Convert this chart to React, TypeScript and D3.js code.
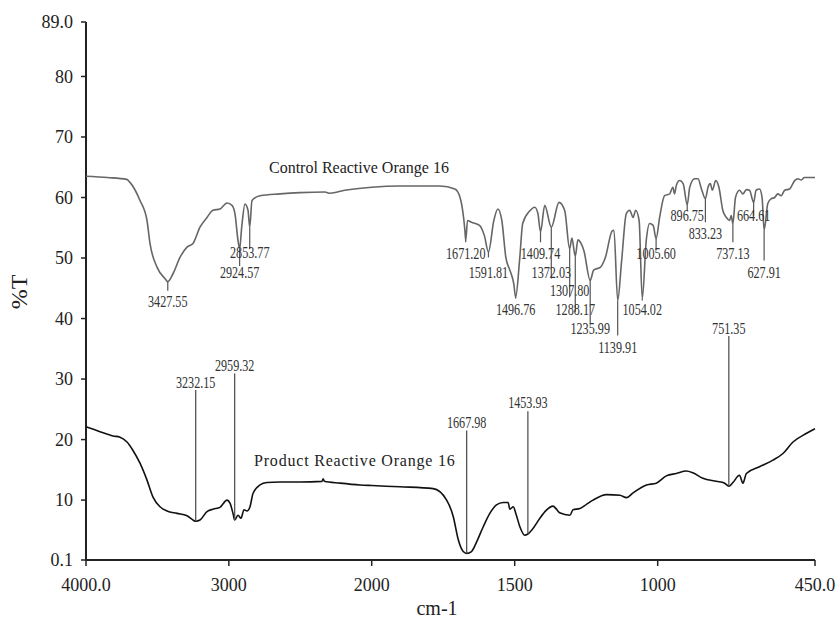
import React, { useEffect, useRef } from "react";
import * as d3 from "d3";

// control spectrum (wavenumber cm-1, %T)
const controlWn = [
  4000, 3850, 3715, 3692, 3622, 3573, 3552, 3503, 3447, 3427.55, 3391, 3342, 3293, 3251, 3202, 3153, 3111, 3062,
  3013, 2978, 2957, 2936, 2924.57, 2910, 2887, 2866, 2853.77, 2838, 2782, 2642, 2502, 2327, 2292, 2188, 2000,
  1901, 1761, 1709, 1691, 1674, 1671.2, 1665, 1651, 1623, 1606, 1591.81, 1573, 1559, 1545, 1531, 1517, 1503,
  1496.76, 1483, 1472, 1447, 1430, 1419, 1409.74, 1395, 1372.03, 1345, 1325, 1307.8, 1300, 1288.17, 1279, 1268,
  1258, 1235.99, 1224, 1200, 1183, 1159, 1153, 1139.91, 1126, 1110, 1098, 1086, 1077, 1065, 1054.02, 1040, 1028,
  1016, 1005.6, 993, 976, 958, 947, 941, 935, 923, 911, 896.75, 888, 871, 859, 847, 833.23, 824, 816, 809, 797,
  786, 772, 760, 749, 743, 737.13, 728, 714, 702, 690, 679, 664.61, 656, 644, 635, 627.91, 615, 603, 591, 580,
  568, 556, 539, 521, 510, 498, 487, 450,
];
const controlT = [
  63.5, 63.3, 63.0, 62.5, 59.5, 56.2, 52.4, 48.5, 46.6, 46.1, 47.4, 50.1, 51.8, 52.4, 55.1, 56.7, 57.9, 58.1,
  59.1, 58.7, 57.3, 52.9, 51.5, 55.1, 58.9, 57.9, 55.1, 59.5, 60.3, 60.6, 60.8, 60.9, 60.7, 61.2, 61.7,
  61.9, 61.9, 61.4, 60.0, 54.5, 52.9, 56.2, 55.9, 55.4, 53.7, 51.0, 56.2, 58.1, 56.2, 50.1, 48.0, 45.7,
  43.5, 49.6, 55.7, 57.8, 58.4, 57.4, 54.3, 58.7, 55.1, 59.2, 57.8, 51.5, 53.3, 50.3, 53.0, 52.4,
  51.2, 46.3, 48.0, 48.5, 50.1, 54.5, 54.6, 43.0, 49.6, 57.3, 57.9, 56.7, 57.9, 56.2, 43.3, 52.9, 55.7,
  55.4, 53.2, 56.8, 60.3, 60.6, 61.7, 60.6, 62.0, 62.8, 62.3, 58.8, 61.7, 63.1, 63.1, 61.4, 59.8, 61.7, 62.3, 61.2, 62.8,
  61.7, 57.8, 56.7, 56.2, 57.0, 55.7, 60.0, 61.2, 60.6, 61.3, 61.2, 59.2, 61.2, 61.4, 60.0, 54.6, 59.0, 59.8, 60.0, 60.6,
  60.3, 61.2, 61.4, 62.8, 63.1, 62.9, 63.3, 63.3,
];

// product spectrum
const productWn = [
  4000, 3902, 3811, 3762, 3713, 3671, 3622, 3573, 3531, 3482, 3433, 3363, 3293, 3251, 3232.15, 3202, 3153, 3111,
  3062, 3013, 2992, 2971, 2959.32, 2936, 2915, 2894, 2873, 2852, 2831, 2782, 2733, 2642, 2502, 2348, 2340, 2332,
  2222, 2082, 2000, 1901, 1785, 1738, 1715, 1697, 1680, 1667.98, 1651, 1633, 1610, 1587, 1564, 1540, 1523, 1517,
  1505, 1496, 1482, 1465, 1453.93, 1436, 1412, 1390, 1366, 1354, 1343, 1307, 1296, 1272, 1249, 1226, 1179, 1132,
  1109, 1086, 1039, 1005, 970, 935, 900, 877, 842, 795, 766, 751.35, 737, 714, 702, 690, 644, 597, 562, 527,
  481, 450,
];
const productT = [
  22.1, 21.3, 20.6, 20.4, 19.6, 18.2, 16.1, 13.3, 10.5, 8.9, 8.2, 7.8, 7.4, 6.7, 6.5, 6.7, 8.1, 8.5,
  8.8, 10.0, 9.5, 7.8, 6.7, 7.5, 7.0, 8.4, 8.2, 8.9, 11.1, 12.5, 12.9, 13.0, 13.0, 13.1, 13.5, 13.1,
  12.8, 12.5, 12.4, 12.2, 11.9, 10.0, 7.3, 3.4, 1.5, 1.2, 1.5, 3.1, 5.6, 7.8, 9.2, 9.6, 9.6, 8.5,
  8.9, 7.8, 5.6, 4.2, 4.4, 5.3, 7.0, 8.3, 9.0, 8.5, 7.9, 7.5, 8.4, 8.6, 9.3, 10.0, 10.9, 10.8,
  10.4, 11.2, 12.5, 12.8, 14.0, 14.4, 14.8, 14.5, 13.6, 13.1, 12.8, 12.3, 12.9, 14.1, 12.8, 14.4, 15.5, 16.6, 17.7, 19.6,
  21.0, 21.8,
];

// peak annotations: wavenumber, %T of label centre, %T where the marker line ends
const controlPeakWn = [
  3427.55, 2924.57, 2853.77, 1671.2, 1591.81, 1496.76, 1409.74, 1372.03, 1307.8, 1288.17, 1235.99, 1139.91,
  1054.02, 1005.6, 896.75, 833.23, 737.13, 664.61, 627.91,
];
const controlPeakLabelT = [42.9, 47.7, 50.9, 50.8, 47.7, 41.5, 50.8, 47.7, 44.7, 41.5, 38.4, 35.3, 41.5, 50.8, 57.0, 54.0, 50.8, 57.0, 47.7];
const controlPeakLineT = [44.6, 48.7, 51.5, 52.6, 50.1, 43.3, 52.6, 46.6, 43.5, 41.1, 39.2, 37.2, 43.0, 51.3, 57.8, 55.9, 52.6, 57.0, 49.6];

const productPeakWn = [3232.15, 2959.32, 1667.98, 1453.93, 751.35];
const productPeakLabelT = [29.5, 32.3, 22.9, 26.1, 38.3];
const productPeakLineT = [28.2, 30.9, 21.5, 24.7, 37.1];

const yTicks = [0.1, 10, 20, 30, 40, 50, 60, 70, 80, 89];
const xTicks = [4000, 3000, 2000, 1500, 1000, 450];

const fmtX = (d) => (d === 4000 || d === 450 ? d.toFixed(1) : String(d));
const fmtY = (d) => (d === 89 ? "89.0" : String(d));

const App = () => {
  const svgRef = useRef(null);

  useEffect(() => {
    const svg = d3.select(svgRef.current);
    svg.selectAll("*").remove();

    const font = "'Liberation Serif', 'Times New Roman', serif";
    // FTIR axis: scale doubles below 2000 cm-1
    const x = d3.scaleLinear().domain([4000, 2000, 450]).range([86, 371.7, 815]);
    const y = d3.scaleLinear().domain([0.1, 89]).range([560, 22]);

    const line = d3
      .line()
      .x((d) => x(d[0]))
      .y((d) => y(d[1]))
      .curve(d3.curveMonotoneX);

    const control = controlWn.map((w, i) => [w, controlT[i]]);
    const product = productWn.map((w, i) => [w, productT[i]]);

    // axes
    const yAxis = svg.append("g").attr("transform", "translate(86,0)");
    yAxis.append("line").attr("y1", 22).attr("y2", 560).attr("stroke", "#222").attr("stroke-width", 2);
    yTicks.forEach((t) => {
      yAxis.append("line").attr("x1", -5).attr("x2", 0).attr("y1", y(t)).attr("y2", y(t)).attr("stroke", "#222").attr("stroke-width", 1.5);
      yAxis
        .append("text")
        .attr("x", -13)
        .attr("y", y(t))
        .attr("dy", "0.35em")
        .attr("text-anchor", "end")
        .style("font-family", font)
        .style("font-size", "18px")
        .attr("fill", "#222")
        .text(fmtY(t));
    });

    const xAxis = svg.append("g").attr("transform", "translate(0,560)");
    xAxis.append("line").attr("x1", 86).attr("x2", 815).attr("stroke", "#222").attr("stroke-width", 2);
    xTicks.forEach((t) => {
      xAxis.append("line").attr("x1", x(t)).attr("x2", x(t)).attr("y1", 0).attr("y2", 6).attr("stroke", "#222").attr("stroke-width", 1.5);
      xAxis
        .append("text")
        .attr("x", x(t))
        .attr("y", 31)
        .attr("text-anchor", "middle")
        .style("font-family", font)
        .style("font-size", "18px")
        .attr("fill", "#222")
        .text(fmtX(t));
    });

    svg
      .append("text")
      .attr("transform", "translate(27,292) rotate(-90)")
      .attr("text-anchor", "middle")
      .style("font-family", font)
      .style("font-size", "24px")
      .attr("fill", "#222")
      .text("%T");

    svg
      .append("text")
      .attr("x", 437)
      .attr("y", 615)
      .attr("text-anchor", "middle")
      .style("font-family", font)
      .style("font-size", "20px")
      .attr("fill", "#222")
      .text("cm-1");

    // curves
    svg.append("path").datum(control).attr("d", line).attr("fill", "none").attr("stroke", "#666").attr("stroke-width", 1.6);
    svg.append("path").datum(product).attr("d", line).attr("fill", "none").attr("stroke", "#111").attr("stroke-width", 1.6);

    // control peak markers
    controlPeakWn.forEach((w, i) => {
      const idx = controlWn.indexOf(w);
      const top = controlT[idx];
      svg
        .append("line")
        .attr("x1", x(w))
        .attr("x2", x(w))
        .attr("y1", y(top))
        .attr("y2", y(controlPeakLineT[i]))
        .attr("stroke", "#555")
        .attr("stroke-width", 1.2);
      svg
        .append("text")
        .attr("transform", `translate(${x(w)},${y(controlPeakLabelT[i])}) scale(0.76,1)`)
        .attr("dy", "0.35em")
        .attr("text-anchor", "middle")
        .style("font-family", font)
        .style("font-size", "16px")
        .attr("fill", "#333")
        .text(w.toFixed(2));
    });

    // product peak markers
    productPeakWn.forEach((w, i) => {
      const idx = productWn.indexOf(w);
      const bottom = productT[idx];
      svg
        .append("line")
        .attr("x1", x(w))
        .attr("x2", x(w))
        .attr("y1", y(productPeakLineT[i]))
        .attr("y2", y(bottom))
        .attr("stroke", "#555")
        .attr("stroke-width", 1.3);
      svg
        .append("text")
        .attr("transform", `translate(${x(w)},${y(productPeakLabelT[i])}) scale(0.76,1)`)
        .attr("dy", "0.35em")
        .attr("text-anchor", "middle")
        .style("font-family", font)
        .style("font-size", "16px")
        .attr("fill", "#333")
        .text(w.toFixed(2));
    });

    // series names
    svg
      .append("text")
      .attr("x", 269)
      .attr("y", 172.5)
      .style("font-family", font)
      .style("font-size", "16px")
      .attr("fill", "#222")
      .text("Control Reactive Orange 16");

    svg
      .append("text")
      .attr("x", 254)
      .attr("y", 466)
      .style("font-family", font)
      .style("font-size", "16px")
      .style("letter-spacing", "0.8px")
      .attr("fill", "#222")
      .text("Product Reactive Orange 16");
  }, []);

  return (
    <svg
      ref={svgRef}
      width="837"
      height="619"
      style={{ position: "absolute", left: 0, top: 0, background: "#fff" }}
    ></svg>
  );
};

export default App;
